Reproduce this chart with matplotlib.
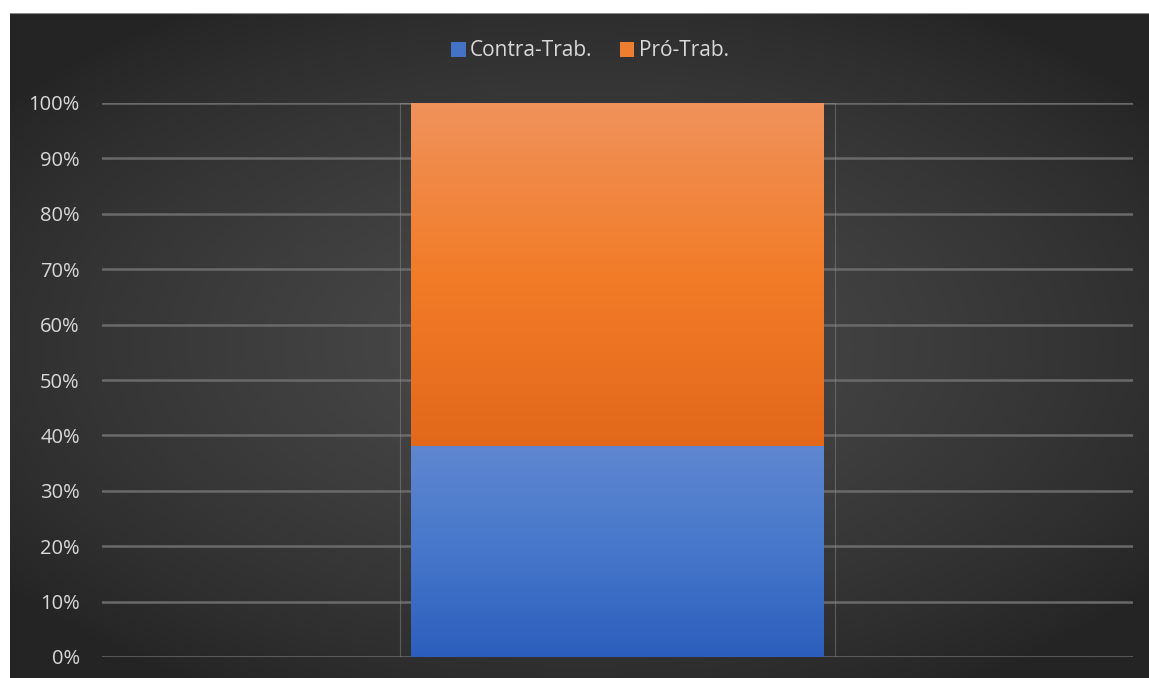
import numpy as np
import matplotlib.pyplot as plt
from matplotlib.colors import LinearSegmentedColormap
from matplotlib.patches import Rectangle

plt.rcParams['font.family'] = ['Open Sans', 'DejaVu Sans']

# Share of each side (stacked to 100%)
categories = [""]
contra = [0.38]
pro = [0.62]
series_names = ["Contra-Trab.", "Pró-Trab."]

W, H = 1149, 678
fig = plt.figure(figsize=(W / 100, H / 100), dpi=100, facecolor="white")

# dark panel with a soft radial glow
bg = fig.add_axes([10 / W, 0, 1 - 10 / W, 1 - 13 / H])
yy, xx = np.mgrid[0:1:400j, 0:1:600j]
r = np.sqrt(((xx - 0.5) / 0.85) ** 2 + ((yy - 0.5) / 0.8) ** 2)
glow = np.clip(1 - r / 0.75, 0, 1) ** 0.8
bg_cmap = LinearSegmentedColormap.from_list("bg", ["#242424", "#4d4d4d"])
bg.imshow(glow, cmap=bg_cmap, aspect="auto", extent=[0, 1, 0, 1], vmin=0, vmax=1)
bg.set_axis_off()
bg.add_line(plt.Line2D([0, 1], [1, 1], color="#888888", lw=1.5, transform=bg.transAxes))

ax = fig.add_axes([102 / W, 21 / H, (1133 - 102) / W, (657 - 103) / H])
ax.set_facecolor("none")
ax.set_xlim(-1, 1)
ax.set_ylim(0, 1)

x = np.arange(len(categories))
width = 0.8
blue_cmap = LinearSegmentedColormap.from_list("blue", ["#2c5ebd", "#4677cb", "#5f87d0"])
orange_cmap = LinearSegmentedColormap.from_list("orange", ["#e3681a", "#f27c28", "#f0925c"])

bars_c = ax.bar(x, contra, width, color="#4472c4", zorder=3, label=series_names[0])
bars_p = ax.bar(x, pro, width, bottom=contra, color="#ed7d31", zorder=3, label=series_names[1])

# vertical gradient inside each segment
grad = np.linspace(0, 1, 256).reshape(-1, 1)
for bars, cmap in [(bars_c, blue_cmap), (bars_p, orange_cmap)]:
    for b in bars:
        x0, y0 = b.get_x(), b.get_y()
        im = ax.imshow(grad, cmap=cmap, aspect="auto", origin="lower",
                       extent=[x0, x0 + b.get_width(), y0, y0 + b.get_height()], zorder=4)
        im.set_clip_path(b)

# faint frame behind the column
for b in bars_c:
    ax.add_patch(Rectangle((b.get_x() - 0.021, 0), b.get_width() + 0.042, 1,
                           fill=False, ec="#8a8a8a", lw=0.8, alpha=0.5, zorder=2))

ax.set_yticks(np.arange(0, 1.01, 0.1))
ax.set_yticklabels([f"{int(round(v * 100))}%" for v in np.arange(0, 1.01, 0.1)])
ax.yaxis.grid(True, color="#6a6a6a", lw=1.8, zorder=1)
ax.tick_params(axis="y", length=0, pad=16, labelsize=14.5, labelcolor="#d9d9d9")
ax.set_xticks([])
for s in ax.spines.values():
    s.set_visible(False)

leg = fig.legend(handles=[bars_c, bars_p], labels=series_names, loc="center",
                 bbox_to_anchor=(590 / W, 1 - 51 / H), ncol=2, frameon=False,
                 fontsize=15, labelcolor="#d9d9d9", handlelength=0.7, handleheight=0.7,
                 handletextpad=0.2, columnspacing=1.3)

fig.savefig("out.png", dpi=100, facecolor=fig.get_facecolor())
